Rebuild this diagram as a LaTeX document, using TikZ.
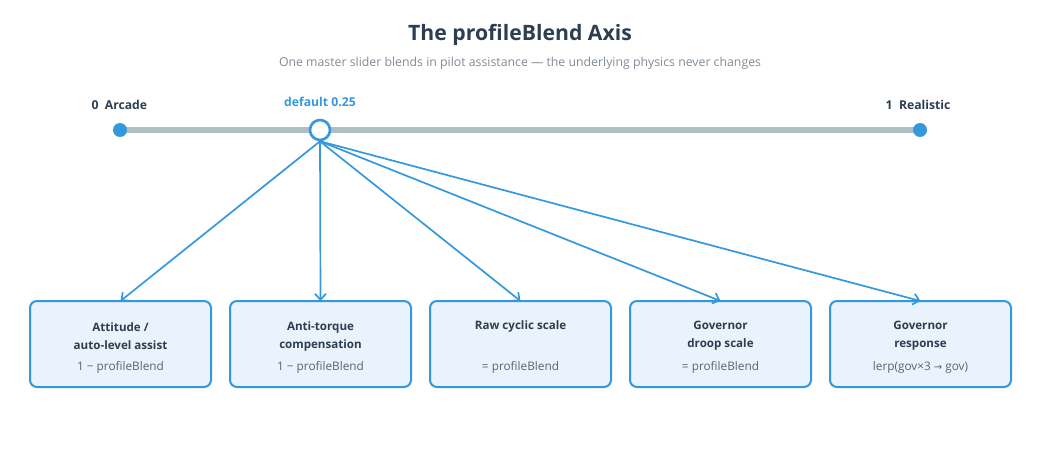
\documentclass[tikz,border=0pt]{standalone}
\usepackage{fontspec}
\setmainfont{Open Sans}
\newfontfamily\symfont{DejaVu Sans}
\usetikzlibrary{arrows.meta}
\definecolor{dark}{HTML}{2C3E50}
\definecolor{blue}{HTML}{3498DB}
\definecolor{track}{HTML}{B0BEC5}
\definecolor{sub}{HTML}{808B96}
\definecolor{formula}{HTML}{566573}
\definecolor{boxfill}{HTML}{EAF2FB}
\tikzset{
  box/.style={draw=blue, fill=boxfill, line width=2pt, rounded corners=7pt, minimum width=181pt, minimum height=86pt, inner sep=0pt},
  title/.style={font=\bfseries\fontsize{21.2}{25}\selectfont, text=dark},
  subtitle/.style={font=\fontsize{12.3}{15}\selectfont, text=sub},
  endlabel/.style={font=\bfseries\fontsize{12.2}{14}\selectfont, text=dark},
  boxtitle/.style={font=\bfseries\fontsize{11.6}{18}\selectfont, text=dark, align=center},
  boxformula/.style={font=\fontsize{11.8}{14}\selectfont, text=formula},
  link/.style={draw=blue, line width=1.7pt, -{Straight Barb[length=6pt,width=11pt,line width=1.7pt]}},
  enddot/.style={circle, fill=blue, minimum size=14pt, inner sep=0pt},
  handle/.style={circle, draw=blue, fill=white, line width=2.6pt, minimum size=20pt, inner sep=0pt}
}
\begin{document}
\begin{tikzpicture}[x=1pt,y=-1pt]
\useasboundingbox (0,0) rectangle (1040,470);
\node[title] (t) at (520,35) {The profileBlend Axis};
\node[subtitle] (st) at (520,63) {One master slider blends in pilot assistance — the underlying physics never changes};
% slider
\coordinate (l) at (120,130);
\coordinate (r) at (920,130);
\draw[track, line width=6pt] (l) -- (r);
\node[enddot] (d0) at (l) {};
\node[enddot] (d1) at (r) {};
\node[endlabel, anchor=west] (la) at (88,105) {0\ \ Arcade};
\node[endlabel, anchor=east] (lr) at (954,105) {1\ \ Realistic};
\node[endlabel, text=blue] (ld) at (320,102) {default 0.25};
% boxes
\node[box] (b1) at (120.5,344) {};
\node[box] (b2) at (320.5,344) {};
\node[box] (b3) at (520.5,344) {};
\node[box] (b4) at (720.5,344) {};
\node[box] (b5) at (920.5,344) {};
\node[boxtitle] (b1t) at (120.5,336) {Attitude /\\auto-level assist};
\node[boxtitle] (b2t) at (320.5,336) {Anti-torque\\compensation};
\node[boxtitle] (b3t) at (520.5,326) {Raw cyclic scale};
\node[boxtitle] (b4t) at (720.5,336) {Governor\\droop scale};
\node[boxtitle] (b5t) at (920.5,336) {Governor\\response};
\node[boxformula] (b1f) at (120.5,367) {1 − profileBlend};
\node[boxformula] (b2f) at (320.5,367) {1 − profileBlend};
\node[boxformula] (b3f) at (520.5,367) {= profileBlend};
\node[boxformula] (b4f) at (720.5,367) {= profileBlend};
\node[boxformula] (b5f) at (920.5,367) {lerp(gov×3 {\symfont\fontsize{10}{14}\selectfont →} gov)};
% links
\node[handle] (h) at (320,130) {};
\foreach \b in {b1,b2,b3,b4,b5}{
  \draw[link] (h.south) -- ([yshift=-1pt]\b.north);
}
\end{tikzpicture}
\end{document}
